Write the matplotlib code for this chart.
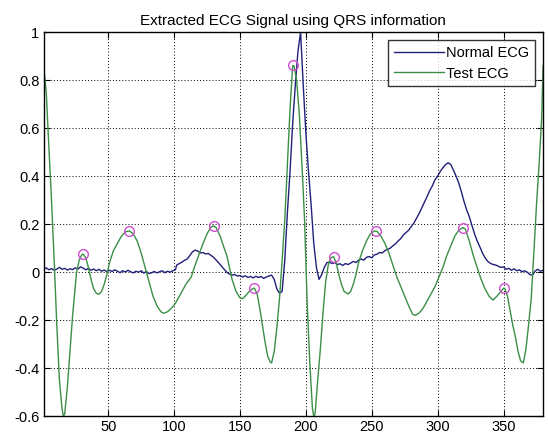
import matplotlib
matplotlib.use("Agg")
import matplotlib.pyplot as plt

plt.rcParams['font.family'] = ['Liberation Sans', 'DejaVu Sans']

title = "Extracted ECG Signal using QRS information"
legend_labels = ["Normal ECG", "Test ECG"]

normal_x = [1, 3, 5, 7, 9, 11, 13, 15, 17, 19, 21, 23, 25, 27, 29, 31, 33, 35, 37, 39,
            41, 43, 45, 47, 49, 51, 53, 55, 57, 59, 61, 63, 65, 67, 69, 71, 73, 75, 77, 79,
            81, 83, 85, 87, 89, 91, 93, 95, 97, 99, 101, 102, 104, 106, 108, 110, 112, 114, 116, 118,
            120, 122, 124, 126, 128, 130, 132, 134, 136, 138, 140, 142, 144, 146, 148, 150, 152, 154, 156, 158,
            160, 162, 164, 166, 168, 170, 172, 174, 176, 178, 180, 182, 184, 186, 188, 190, 192, 194, 196, 198,
            200, 202, 204, 206, 208, 210, 212, 214, 216, 218, 220, 222, 224, 226, 228, 230, 232, 234, 236, 238,
            240, 242, 244, 246, 248, 250, 252, 254, 256, 258, 260, 262, 264, 266, 268, 270, 272, 274, 276, 278,
            280, 282, 284, 286, 288, 290, 292, 294, 296, 298, 300, 302, 304, 306, 308, 310, 312, 314, 316, 318,
            320, 322, 324, 326, 328, 330, 332, 334, 336, 338, 340, 342, 344, 346, 348, 350, 352, 354, 356, 358,
            360, 362, 364, 366, 368, 370, 372, 374, 376, 378, 380]
normal_y = [0.012, 0.018, 0.010, 0.015, 0.008, 0.013, 0.020, 0.012, 0.016, 0.009, 0.014, 0.011, 0.018, 0.013, 0.022, 0.017, 0.010, 0.016, 0.008, 0.013,
            0.006, 0.012, 0.004, 0.009, 0.002, 0.008, 0.003, 0.010, 0.004, -0.002, 0.006, 0.001, 0.008, 0.002, -0.003, 0.004, 0.000, 0.006, -0.004, 0.003,
            -0.006, -0.002, 0.003, -0.003, 0.002, 0.006, -0.002, 0.004, 0.000, 0.006, 0.010, 0.030, 0.036, 0.042, 0.050, 0.055, 0.070, 0.085, 0.092, 0.088,
            0.080, 0.082, 0.076, 0.078, 0.070, 0.062, 0.050, 0.038, 0.025, 0.012, 0.000, -0.008, -0.012, -0.010, -0.016, -0.014, -0.020, -0.015, -0.022, -0.018,
            -0.024, -0.017, -0.022, -0.018, -0.026, -0.020, -0.016, -0.012, -0.030, -0.070, -0.088, -0.080, 0.050, 0.250, 0.420, 0.620, 0.780, 0.920, 1.000, 0.780,
            0.580, 0.420, 0.280, 0.120, 0.020, -0.030, -0.010, 0.020, 0.040, 0.042, 0.036, 0.040, 0.032, 0.035, 0.028, 0.036, 0.032, 0.038, 0.045, 0.040,
            0.050, 0.055, 0.050, 0.062, 0.065, 0.060, 0.072, 0.075, 0.082, 0.080, 0.090, 0.095, 0.100, 0.110, 0.118, 0.130, 0.140, 0.155, 0.165, 0.175,
            0.190, 0.205, 0.225, 0.245, 0.268, 0.290, 0.315, 0.340, 0.360, 0.385, 0.400, 0.420, 0.435, 0.448, 0.456, 0.448, 0.425, 0.400, 0.372, 0.335,
            0.295, 0.260, 0.232, 0.195, 0.160, 0.130, 0.106, 0.080, 0.060, 0.045, 0.037, 0.032, 0.030, 0.025, 0.020, 0.022, 0.012, 0.016, 0.008, 0.014,
            0.006, 0.010, 0.002, 0.006, 0.000, -0.010, -0.012, 0.005, 0.012, 0.004, 0.008]

test_x = [1, 3, 5, 7, 9, 11, 13, 15, 16, 17, 19, 21, 23, 25, 26, 28, 30, 31, 33, 35,
          37, 39, 41, 43, 45, 47, 49, 51, 54, 57, 60, 63, 66, 69, 72, 75, 78, 81, 84, 87,
          90, 92, 95, 98, 101, 105, 109, 113, 116, 119, 122, 125, 128, 130, 132, 135, 138, 140, 142, 144,
          147, 150, 152, 154, 157, 160, 161, 163, 165, 167, 169, 171, 173, 174, 176, 178, 180, 182, 184, 186,
          188, 190, 191, 193, 195, 197, 199, 201, 203, 205, 206, 207, 209, 211, 213, 215, 217, 219, 221, 223,
          225, 227, 229, 232, 234, 236, 238, 240, 243, 246, 249, 252, 254, 257, 260, 263, 266, 269, 272, 275,
          278, 281, 283, 286, 289, 292, 295, 298, 301, 304, 307, 310, 313, 316, 319, 321, 324, 327, 330, 333,
          336, 339, 342, 345, 348, 350, 351, 353, 355, 357, 359, 361, 363, 365, 367, 369, 371, 373, 375, 377,
          379, 380]
test_y = [0.86, 0.75, 0.52, 0.30, 0.05, -0.22, -0.45, -0.57, -0.60, -0.59, -0.48, -0.33, -0.18, -0.06, 0.00, 0.05, 0.073, 0.075, 0.06, 0.02,
          -0.03, -0.07, -0.088, -0.092, -0.08, -0.05, -0.01, 0.04, 0.09, 0.12, 0.15, 0.168, 0.172, 0.16, 0.13, 0.08, 0.02, -0.04, -0.10, -0.14,
          -0.165, -0.171, -0.165, -0.15, -0.13, -0.09, -0.05, -0.02, 0.03, 0.075, 0.12, 0.16, 0.188, 0.193, 0.185, 0.15, 0.10, 0.07, 0.02, -0.03,
          -0.08, -0.107, -0.11, -0.10, -0.08, -0.067, -0.067, -0.09, -0.15, -0.22, -0.29, -0.35, -0.375, -0.378, -0.33, -0.23, -0.11, 0.05, 0.22, 0.45,
          0.68, 0.86, 0.86, 0.80, 0.66, 0.45, 0.22, -0.13, -0.38, -0.57, -0.60, -0.59, -0.45, -0.32, -0.17, -0.04, 0.03, 0.06, 0.065, 0.04,
          -0.01, -0.05, -0.08, -0.091, -0.08, -0.05, -0.01, 0.04, 0.09, 0.13, 0.16, 0.172, 0.17, 0.15, 0.12, 0.08, 0.03, -0.02, -0.06, -0.10,
          -0.14, -0.175, -0.18, -0.17, -0.15, -0.12, -0.09, -0.06, -0.02, 0.02, 0.07, 0.11, 0.15, 0.175, 0.186, 0.18, 0.13, 0.07, 0.02, -0.03,
          -0.07, -0.10, -0.116, -0.10, -0.08, -0.067, -0.068, -0.10, -0.16, -0.22, -0.27, -0.33, -0.37, -0.378, -0.32, -0.22, -0.11, 0.08, 0.28, 0.45,
          0.65, 0.86]

peaks_x = [31, 66, 130, 161, 190, 221, 253, 319, 350]
peaks_y = [0.075, 0.172, 0.193, -0.067, 0.863, 0.065, 0.172, 0.186, -0.067]

x_ticks = [50, 100, 150, 200, 250, 300, 350]
y_ticks = [-0.6, -0.4, -0.2, 0, 0.2, 0.4, 0.6, 0.8, 1]
y_ticklabels = ["-0.6", "-0.4", "-0.2", "0", "0.2", "0.4", "0.6", "0.8", "1"]

fig = plt.figure(figsize=(5.48, 4.32), dpi=100)
ax = fig.add_axes([0.0796, 0.0366, 0.9114, 0.8889])

ax.plot(normal_x, normal_y, color='#20207a', lw=1.0, label=legend_labels[0])
ax.plot(test_x, test_y, color='#3a8f45', lw=1.0, label=legend_labels[1])
ax.plot(peaks_x, peaks_y, linestyle='none', marker='o', markersize=7,
        markerfacecolor='none', markeredgecolor='#d050d0', markeredgewidth=1.0)

ax.set_xlim(1, 380)
ax.set_ylim(-0.6, 1)
ax.set_xticks(x_ticks)
ax.set_yticks(y_ticks)
ax.set_yticklabels(y_ticklabels)
ax.tick_params(direction='in', top=True, right=True, labelsize=10.5, length=4, width=0.8, pad=3)
ax.grid(True, linestyle=(0, (1, 2.2)), color='black', linewidth=0.7)
for s in ax.spines.values():
    s.set_linewidth(1.0)
ax.set_title(title, fontsize=11, pad=5)

leg = ax.legend(loc='upper right', fontsize=10.5, frameon=True, fancybox=False,
                edgecolor='black', handlelength=3.4, handletextpad=0.15,
                borderaxespad=0.55, labelspacing=0.45, borderpad=0.4)
leg.get_frame().set_linewidth(1.0)

fig.savefig("out.png", dpi=100)
